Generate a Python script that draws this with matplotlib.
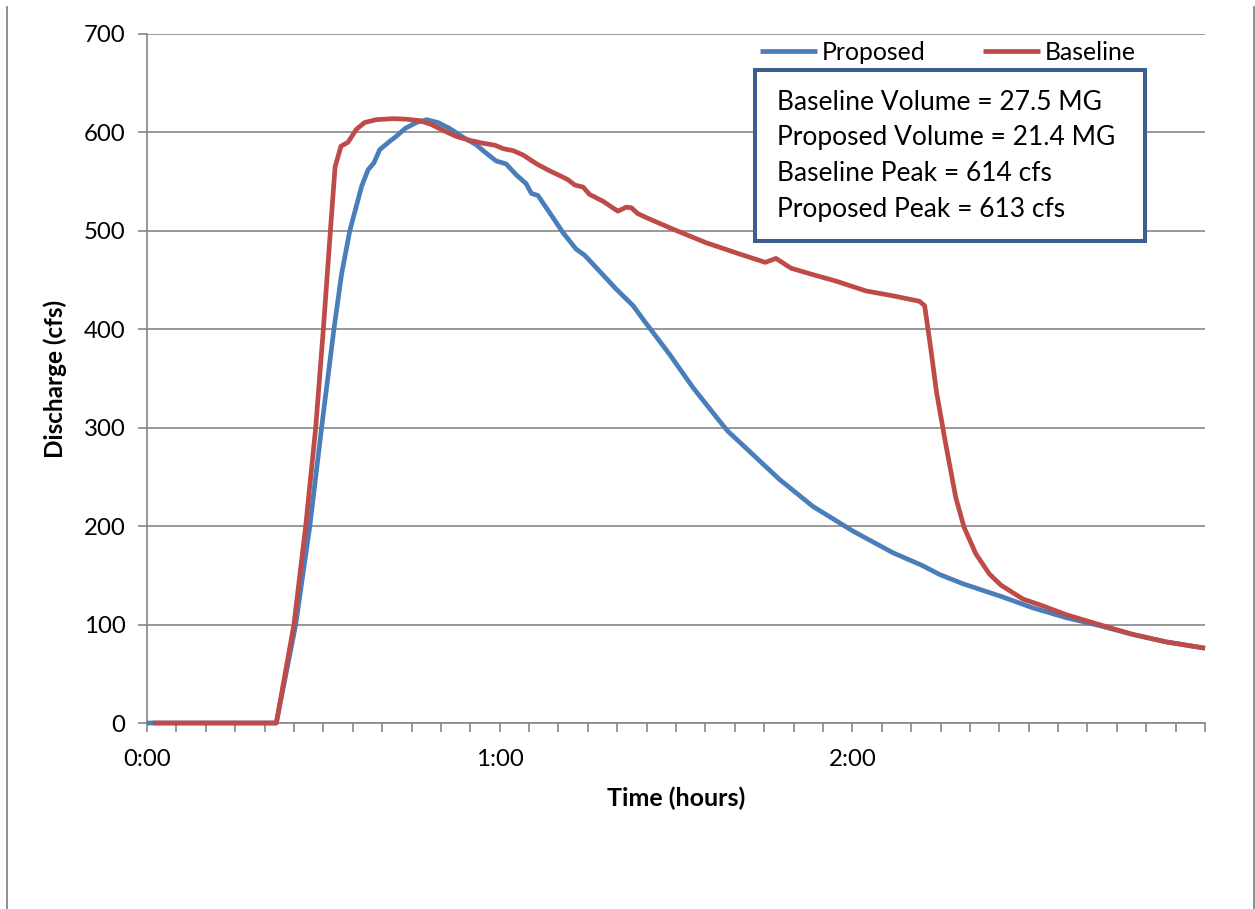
import matplotlib.pyplot as plt
from matplotlib.lines import Line2D
from matplotlib.patches import Rectangle

# Данные (время в минутах, расход в cfs).
proposed_t = [0, 22, 25.3, 27.7, 29.7, 31.8, 33.1, 34.5, 36.5, 37.6, 38.6, 39.6,
	41.3, 42.4, 43.9, 45.8, 47.6, 49.5, 51.5, 53.8, 56, 57.7, 59.4, 61.1, 62.8,
	64.5, 65.4, 66.5, 68.5, 70.8, 73, 74.5, 77, 79.8, 82.7, 84.6, 88.9, 92.9,
	97.4, 98.8, 102.5, 107.6, 113.3, 120.1, 126.9, 131.9, 134.8, 138.8, 145.6,
	150.7, 156.4, 162, 167.7, 173.4, 180]
proposed_q = [0, 0, 100, 200, 300, 400, 456, 500, 545, 562, 569, 582.5,
	591, 596, 604, 610, 613, 610, 604, 595, 587.5, 579, 571, 568, 557,
	548, 538, 536, 518.5, 498, 481.5, 475, 459, 441, 424, 408.5, 374.6, 340.7,
	306.8, 296.6, 276, 247.5, 220, 195, 173, 160, 151, 141.5, 128,
	117, 107, 99, 90, 82.4, 76]

baseline_t = [1, 22, 25, 27, 28.7, 30, 31.2, 32, 33, 34.2, 35.6, 37, 39, 42, 44,
	46.4, 48.4, 50.4, 52.6, 54.9, 57.2, 59.2, 60.6, 62.3, 64, 66.3, 68.5, 70.8,
	71.6, 72.8, 74.2, 75.3, 77.6, 80.1, 81.5, 82.4, 83.5, 85.5, 89.5, 95.1,
	100.8, 105.2, 107, 109.6, 113.3, 117.2, 122.3, 126.9, 131.4, 132.3, 133.4,
	134.3, 135.9, 137.6, 139, 141, 143.3, 145.3, 149, 152.4, 156.4, 162, 167.7,
	173.4, 180]
baseline_q = [0, 0, 100, 200, 300, 400, 500, 565, 586, 590, 603, 610, 613, 614, 613.5,
	612, 608, 602, 596, 592, 589, 587, 583.5, 581.5, 577, 568, 561, 554.5,
	552, 546.5, 544.5, 537, 530, 520, 524, 523.5, 517.5, 512, 501.7, 488,
	476.5, 468, 472, 462, 455.5, 449, 439, 434, 428.5, 424, 378,
	337, 283, 229, 199, 172, 151.5, 140, 126, 119, 110, 100, 90,
	82.4, 76]

hour_ticks = [0, 60, 120]
hour_labels = ['0:00', '1:00', '2:00']
summary_lines = ['Baseline Volume = 27.5 MG', 'Proposed Volume = 21.4 MG',
	'Baseline Peak = 614 cfs', 'Proposed Peak = 613 cfs']

plt.rcParams['font.family'] = ['Lato', 'DejaVu Sans']
FS = 17.3
W, H = 1255, 909
fig = plt.figure(figsize=(W / 100, H / 100), dpi=100)
fig.patch.set_facecolor('white')

ax = fig.add_axes([147 / W, 1 - 723 / H, (1205 - 147) / W, (723 - 34) / H])
grid_c = '#868686'

ax.plot(proposed_t, proposed_q, color='#4A7EBB', lw=3.4, label='Proposed',
	solid_joinstyle='round', solid_capstyle='butt', clip_on=False, zorder=3)
ax.plot(baseline_t, baseline_q, color='#BE4B48', lw=3.4, label='Baseline',
	solid_joinstyle='round', solid_capstyle='butt', clip_on=False, zorder=4)

ax.set_xlim(0, 180)
ax.set_ylim(0, 700)
ax.set_yticks(range(0, 701, 100))
ax.set_xticks(hour_ticks + [180])
ax.set_xticklabels(hour_labels + [''])
ax.set_xticks(range(0, 181, 5), minor=True)
ax.yaxis.grid(True, color=grid_c, lw=1.2)
ax.set_axisbelow(True)

for s in ['top', 'right']:
	ax.spines[s].set_visible(False)
for s in ['left', 'bottom']:
	ax.spines[s].set_color(grid_c)
	ax.spines[s].set_linewidth(1.2)
ax.tick_params(axis='both', which='both', direction='out', color=grid_c,
	width=1.2, length=6.5, labelsize=FS, pad=9)
ax.tick_params(axis='x', which='major', pad=12)

ax.set_ylabel('Discharge (cfs)', fontsize=17.5, fontweight='bold', labelpad=12)
ax.set_xlabel('Time (hours)', fontsize=18, fontweight='bold', labelpad=12)

# Легенда над блоком с итогами.
fig.legend(loc='center', bbox_to_anchor=(948 / W, 1 - 52 / H), ncol=2,
	frameon=False, fontsize=17.8, handlelength=2.3, handletextpad=0.2,
	columnspacing=2.3)

# Блок с итогами.
fig.patches.append(Rectangle((755 / W, 1 - 241 / H), 390 / W, 171 / H,
	transform=fig.transFigure, facecolor='white', edgecolor='#3A5F8F', lw=2.9,
	zorder=5))
for i, line in enumerate(summary_lines):
	fig.text(777 / W, 1 - (102 + i * 35.7) / H, line, fontsize=19,
		va='center', ha='left', zorder=6)

# Рамка области диаграммы (видны только боковые края).
for x in [7, 1254]:
	fig.add_artist(Line2D([x / W, x / W], [0, 1 - 7 / H], color=grid_c, lw=1.3))

fig.savefig('out.png', dpi=100)
